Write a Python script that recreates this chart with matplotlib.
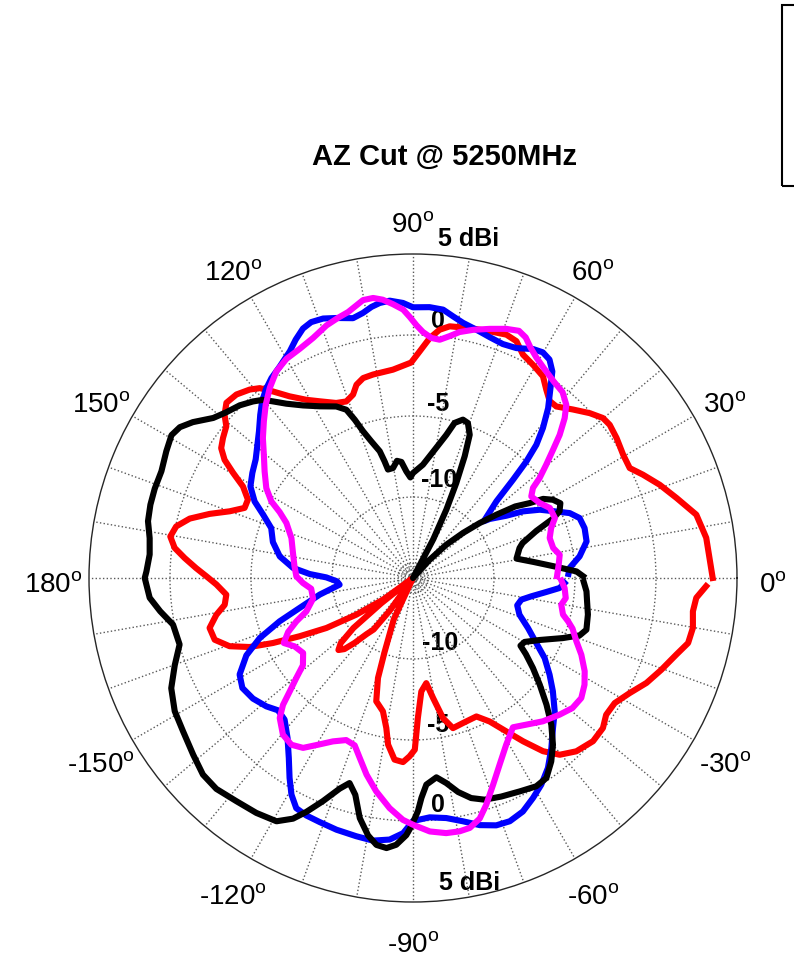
import numpy as np
import matplotlib
matplotlib.use('Agg')
import matplotlib.pyplot as plt
from matplotlib.patches import Rectangle
from matplotlib.transforms import offset_copy

# azimuth cut, gain in dBi
red_theta = [0, 7.8, 12.6, 16.9, 20.7, 24.2, 26.9, 30.4, 34.5, 37.9, 40.1, 43.0, 46.5, 50.1, 52.3, 54.7,
             57.2, 60.6, 63.8, 66.4, 69.0, 72.7, 77.2, 81.7, 83.9, 86.0, 88.3, 90.5, 95.5, 101.1, 104.0,
             106.3, 108.1, 110.7, 113.7, 117.8, 120.9, 124.2, 126.9, 128.9, 130.9, 133.9, 136.8, 139.1,
             140.9, 143.6, 145.9, 147.9, 149.7, 151.7, 154.6, 157.4, 160.0, 162.5, 165.1, 167.7, 170.3,
             172.8, 175.0, 177.4, 179.5, 181.9, 185.1, 188.1, 190.6, 193.8, 197.3, 200.4, 202.9, 204.9,
             207.2, 210.0, 212.9, 215.8, 217.5, 218.5, 220.0, 222.0, 224.0, 226.0, 228.0, 230.4, 232.6,
             234.5, 236.5, 240.0, 245.0, 249.0, 250.7, 253.4, 257.3, 259.9, 261.5, 264.2, 266.9, 268.9,
             270.6, 272.0, 274.2, 277.2, 279.5, 282.1, 284.9, 289.0, 294.6, 298.1, 301.3, 304.0, 306.9,
             309.7, 313.3, 317.8, 321.7, 324.7, 328.2, 332.0, 335.8, 339.7, 343.8, 346.7, 349.9, 353.2,
             356.0, 358.4]
red_gain = [3.5, 3.27, 2.92, 2.0, 1.28, 0.56, 0.0, 0.04, 0.25, 0.39, 0.33, -0.08, -0.66, -1.2, -1.2, -0.76,
            -0.19, 0.1, 0.37, 0.95, 1.09, 0.95, 0.82, 0.7, 0.41, -0.15, -1.0, -1.7, -2.08, -2.2, -2.28,
            -2.57, -3.09, -3.35, -3.2, -2.67, -2.18, -1.44, -0.6, 0.06, 0.39, 0.72, 0.8, 0.39,
            -0.15, -0.43, -0.7, -1.27, -2.14, -3.08, -3.72, -3.74, -2.96, -1.84, -0.74, -0.04, 0.2,
            -0.17, -0.85, -1.6, -2.24, -2.86, -3.43, -3.26, -2.65, -2.07, -2.18, -2.92, -4.05, -5.47,
            -7.14, -8.83, -10.84, -12.7, -15.0, -12.5, -10.2, -9.0, -8.6, -8.9, -9.6, -10.5, -11.0,
            -12.5, -15.0, -15.0, -12.2, -10.1, -8.46, -7.06, -6.56, -5.6, -4.6, -3.73, -3.62, -3.99,
            -4.4, -6.36, -7.98, -8.46, -7.49, -6.15, -5.41, -5.53, -5.6, -4.96, -3.92, -2.84, -1.63,
            -0.82, -0.3, 0.0, -0.06, -0.39, -0.35, 0.14, 0.8, 1.34, 1.93, 2.45, 2.55, 2.4,
            2.53, 3.1]

blue_theta = [1.5, 3.7, 7.4, 11.9, 16.2, 19.8, 22.5, 24.9, 28.3, 31.2, 33.7, 37.6, 38.7, 42.6, 44.5, 45.8,
              47.2, 49.1, 51.5, 53.9, 56.0, 58.0, 60.1, 62.3, 65.8, 69.0, 72.3, 75.7, 78.9, 81.3, 83.6,
              86.5, 90.0, 92.1, 94.8, 96.9, 98.7, 100.7, 103.0, 106.4, 109.1, 111.7, 113.8, 116.2, 118.5,
              122.2, 125.3, 128.0, 130.5, 133.1, 136.4, 139.8, 143.0, 146.8, 150.6, 154.2, 157.1, 160.6,
              165.6, 170.8, 175.2, 177.8, 179.6, 182.5, 185.2, 190.1, 194.8, 198.0, 201.4, 204.9, 209.1,
              212.8, 217.0, 221.2, 224.4, 227.8, 231.9, 235.4, 238.3, 240.7, 243.1, 245.8, 249.1, 253.1,
              257.6, 261.3, 264.9, 267.8, 270.0, 274.0, 277.9, 281.6, 285.1, 288.6, 291.7, 295.2, 298.6,
              301.8, 305.4, 309.1, 313.0, 316.7, 321.0, 324.7, 328.7, 332.2, 336.5, 341.0, 345.3, 348.7,
              351.2, 354.0, 356.1, 358.1]
blue_gain = [-5.4, -5.31, -4.63, -4.05, -3.97, -4.07, -4.53, -5.25, -6.11, -7.06, -8.07, -9.03, -9.4, -8.0,
             -6.34, -4.96, -3.79, -2.75, -1.6, -0.62, 0.38, 0.9, 1.07, 0.96, 0.56, 0.47, 0.6, 0.82, 1.05,
             1.34, 1.67, 1.75, 1.71, 1.99, 2.18, 2.1, 1.93, 1.65, 1.46, 1.73, 1.95, 2.0, 1.83, 1.4, 0.93,
             0.43, 0.12, -0.24, -0.66, -1.2, -1.87, -2.41, -2.84, -3.15, -3.48, -4.14, -4.96, -5.72,
             -6.07, -6.67, -7.57, -8.62, -9.65, -10.3, -10.45, -9.15, -7.76, -6.34, -4.84, -3.66, -2.75,
             -2.47, -2.63, -2.97, -3.33, -3.2, -2.45, -1.5, -0.5, 0.33, 0.93, 1.07, 1.13, 1.24,
             1.32, 1.4, 1.21, 0.76, 0.0, -0.19, -0.04, 0.33, 0.8, 1.11, 1.16, 0.93, 0.47,
             0.02, -0.62, -1.46, -2.33, -2.98, -3.89, -4.67, -5.49, -6.4, -7.26, -8.05, -8.35, -8.18,
             -7.61, -6.73, -5.93, -5.64]

magenta_theta = [0.7, 5.2, 9.0, 12.1, 16.3, 19.9, 22.9, 27.1, 30.6, 34.6, 36.9, 38.3, 40.4, 42.5, 44.3,
                 46.5, 48.5, 51.2, 54.4, 58.1, 60.8, 63.0, 64.9, 66.8, 69.5, 72.9, 76.4, 79.3, 81.4, 83.6,
                 85.6, 87.7, 89.2, 90.7, 92.1, 94.2, 96.2, 98.1, 100.2, 101.7, 103.7, 106.1, 108.9, 112.6,
                 116.3, 120.0, 123.5, 127.0, 130.4, 133.6, 137.0, 140.4, 144.3, 148.5, 151.6, 153.7, 156.5,
                 161.8, 168.2, 174.4, 179.2, 182.6, 186.0, 191.7, 197.4, 200.4, 203.4, 206.7, 210.0, 214.3,
                 218.4, 220.6, 222.6, 224.3, 226.4, 230.3, 233.9, 237.1, 240.3, 243.9, 247.6, 250.8, 253.5,
                 256.7, 260.2, 264.2, 267.6, 270.0, 273.8, 277.4, 280.4, 282.8, 285.5, 287.9, 291.2, 294.9,
                 299.2, 303.8, 307.7, 312.2, 317.0, 320.8, 324.5, 328.1, 331.5, 335.5, 338.8, 342.4, 344.4,
                 346.3, 349.8, 352.5, 356.2, 359.0]
magenta_gain = [-6.11, -5.97, -5.83, -6.15, -6.21, -5.93, -5.49, -5.51, -5.91, -6.13, -5.74, -5.04, -4.2,
                -3.27, -2.35, -1.4, -0.72, -0.27, -0.08, 0.27, 0.6, 0.97, 1.4, 1.6, 1.42, 1.09, 0.76, 0.45,
                0.1, -0.2, -0.14, 0.2, 0.6, 1.11, 1.58, 1.95, 2.28, 2.46, 2.43, 2.19, 1.9, 1.71, 1.48, 1.05,
                0.78, 0.62, 0.29, -0.31, -0.97, -1.65, -2.33, -3.05, -3.72, -4.38, -5.06, -5.82, -6.48,
                -7.1, -7.43, -7.65, -7.8, -8.2, -8.68, -8.7, -8.1, -7.32, -6.6, -6.07, -6.56, -6.79,
                -6.33, -5.51, -4.67, -3.79, -3.07, -2.43, -2.26, -2.51, -3.15, -3.77, -4.18, -4.06, -3.42,
                -2.53, -1.64, -0.72, -0.06, 0.23, 0.68, 0.88, 0.9, 0.82, 0.41, -0.29, -1.32, -2.3,
                -3.21, -3.91, -3.56, -3.06, -2.63, -2.3, -2.24, -2.53, -2.94, -3.58, -4.18, -4.67, -5.06,
                -5.47, -5.7, -5.49, -5.62, -5.84]

black_theta = [0.6, 2.3, 4.8, 7.6, 10.6, 15.7, 17.7, 20.9, 23.0, 24.5, 26.9, 29.2, 31.3, 32.7, 35.0, 37.2,
               39.5, 42.0, 45.0, 47.7, 50.0, 60.0, 62.4, 64.0, 65.5, 67.0, 68.4, 70.5, 72.5, 75.0, 76.9,
               80.4, 85.0, 90.0, 91.5, 93.6, 95.7, 97.8, 100.3, 103.0, 103.7, 104.7, 107.0, 108.8, 110.2,
               111.6, 114.1, 118.5, 122.5, 126.0, 128.4, 130.1, 132.2, 135.1, 138.4, 141.3, 144.7, 147.1,
               149.4, 152.8, 157.0, 160.9, 164.4, 167.9, 171.4, 174.9, 178.6, 180.0, 184.3, 187.5, 191.0,
               195.9, 200.1, 204.5, 209.2, 213.7, 218.8, 223.1, 227.0, 231.6, 236.3, 240.7, 243.5, 245.5,
               248.0, 250.8, 252.8, 255.1, 257.5, 260.1, 262.2, 264.4, 266.4, 268.5, 269.6, 271.2, 272.2,
               273.7, 276.7, 279.2, 281.9, 284.8, 287.9, 292.0, 296.6, 300.6, 303.7, 307.0, 310.0, 313.3,
               316.5, 319.9, 323.1, 326.0, 327.8, 330.2, 333.9, 338.2, 341.0, 343.4, 348.2, 352.4, 355.6,
               358.7]
black_gain = [-4.5, -4.9, -6.3, -7.5, -8.5, -8.17, -7.9, -6.85, -5.6, -5.06, -4.8, -5.1, -5.6, -6.44, -7.3,
              -8.54, -9.67, -10.84, -12.1, -13.5, -15.0, -15.0, -12.3, -10.3, -8.56, -6.83, -5.49, -4.85,
              -4.75, -5.09, -5.93, -6.97, -7.98, -8.52, -8.79, -8.4, -7.8, -7.7, -8.1, -8.13, -7.59, -6.91,
              -6.17, -5.43, -4.59, -3.83, -3.4, -2.94, -2.37, -1.7, -1.09, -0.62, -0.29, 0.1, 0.41, 0.8,
              1.65, 2.14, 2.32, 2.12, 1.87, 1.87, 1.83, 1.73, 1.44, 1.32, 1.46, 1.56, 1.3, 0.74, 0.09,
              -0.02, 0.66, 1.4, 1.85, 2.06, 2.41, 2.76, 2.8, 2.57, 2.43, 2.22, 1.6, 0.86,
              -0.14, -1.23, -1.75, -1.15, 0.18, 1.13, 1.63, 1.75, 1.5, 0.88, 0.33, -0.6, -1.42,
              -2.22, -2.61, -2.18, -1.5, -0.95, -0.62, -0.45, -0.27, -0.06, -0.16, -0.82, -1.56, -2.55,
              -3.64, -4.77, -5.74, -6.6, -7.16, -7.06, -6.3, -5.02, -4.12, -3.83, -3.97, -4.16, -4.26,
              -4.46]

series = [(red_theta, red_gain, '#ff0000'),
          (blue_theta, blue_gain, '#0000ff'),
          (black_theta, black_gain, '#000000'),
          (magenta_theta, magenta_gain, '#ff00ff')]

r_min, r_max = -15, 5
ring_values = [-14.7, -14.4, -14.1, -10, -5, 0]
angle_labels = [0, 30, 60, 90, 120, 150, 180, -150, -120, -90, -60, -30]

plt.rcParams['font.family'] = ['Liberation Sans', 'DejaVu Sans']
plt.rcParams['mathtext.fontset'] = 'custom'
plt.rcParams['mathtext.rm'] = 'Liberation Sans'

W, H = 794, 966
fig = plt.figure(figsize=(W / 100, H / 100), dpi=100)
cx, cy, R = 413, 578, 324
ax = fig.add_axes([(cx - R) / W, (H - cy - R) / H, 2 * R / W, 2 * R / H], projection='polar')

for th, g, c in series:
    ax.plot(np.deg2rad(th), g, color=c, lw=4.4, solid_joinstyle='round', zorder=2)

ax.set_rlim(r_min, r_max)
ax.set_yticks(ring_values)
ax.set_yticklabels([])
ax.set_thetagrids(np.arange(0, 360, 10), [''] * 36)
ax.grid(True, linestyle=':', linewidth=1.0, color='0.35')
ax.spines['polar'].set_linewidth(1.0)
ax.spines['polar'].set_color('0.15')

# angle labels a bit outside the outer ring, nudged down like the original
r_lab = r_min + (r_max - r_min) * 360 / R
lab_trans = offset_copy(ax.transData, fig=fig, x=0, y=-8, units='dots')
for a in angle_labels:
    ax.text(np.deg2rad(a), r_lab, str(a) + r'$^{\mathrm{o}}$', ha='center', va='center',
            fontsize=20, clip_on=False, transform=lab_trans)


def fx(x, y):
    return x / W, 1 - y / H


# radial labels, drawn under the curves
rlabels = [('5 dBi', 469, 239), ('0', 438, 321), ('-5', 438, 404), ('-10', 439, 480),
           ('-10', 440, 643), ('-5', 438, 725), ('0', 438, 805), ('5 dBi', 470, 883)]
for s, x, y in rlabels:
    ax.text(*fx(x, y), s, transform=fig.transFigure, ha='center', va='center',
            fontsize=18, fontweight='bold', zorder=1)

fig.text(*fx(445, 157), 'AZ Cut @ 5250MHz', ha='center', va='center', fontsize=21, fontweight='bold')

# empty legend box cut off at the right edge
fig.add_artist(Rectangle(fx(782, 186), 0.05, 181 / H, transform=fig.transFigure,
                         fill=False, edgecolor='black', linewidth=1.5))

fig.savefig('out.png', dpi=100)
